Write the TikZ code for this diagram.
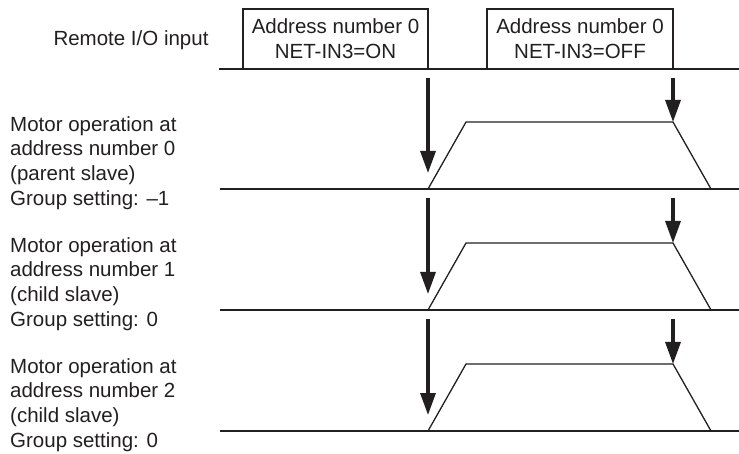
\documentclass[tikz,border=0pt]{standalone}
\usepackage{fontspec}
\setmainfont{Liberation Sans}
\usetikzlibrary{arrows.meta}
\definecolor{ink}{HTML}{231F20}
\tikzset{
  sig/.style={line width=1.3pt,draw=ink},
  trig/.style={line width=3.3pt,draw=ink,-{Triangle[width=15pt,length=22pt]}},
  lbl/.style={font=\fontsize{20.5}{24.7}\selectfont,text=ink,align=left,inner sep=0pt},
  inbox/.style={sig,font=\fontsize{20.5}{24.7}\selectfont,text=ink,align=center,
    minimum height=60pt,inner sep=0pt}
}
\begin{document}
\begin{tikzpicture}[line cap=butt,line join=miter,x=1pt,y=-1pt]
\useasboundingbox (0,0) rectangle (739,454);
% remote input
\node[lbl,anchor=base] (remote) at (131,46) {Remote I/O input};
\draw[sig] (219,69) -- (739,69);
\node[inbox,minimum width=185pt] (on) at (335.5,39) {Address number 0\\NET-IN3=ON};
\node[inbox,minimum width=186pt] (off) at (580,39) {Address number 0\\NET-IN3=OFF};
% motor operation
\foreach \k/\b/\p/\s/\g in {0/189/69/parent/--1,1/310/189/child/0,2/431/310/child/0}{
  \node[lbl,anchor=north west] (motor\k) at (10,\b-73) {Motor operation at\\address number \k\\(\s\ slave)\\Group setting: \g};
  \draw[sig] (220,\b) -- (739,\b);
  \draw[sig] (428,\b) coordinate (start\k) -- (466,\b-67) -- (673,\b-67) coordinate (stop\k) -- (711,\b);
  \coordinate (onarr\k) at (428,\p+9);
  \coordinate (offarr\k) at (673,\p+9);
  \draw[trig] (onarr\k) -- ([yshift=16pt]start\k);
  \draw[trig] (offarr\k) -- (stop\k);
}
\end{tikzpicture}
\end{document}
